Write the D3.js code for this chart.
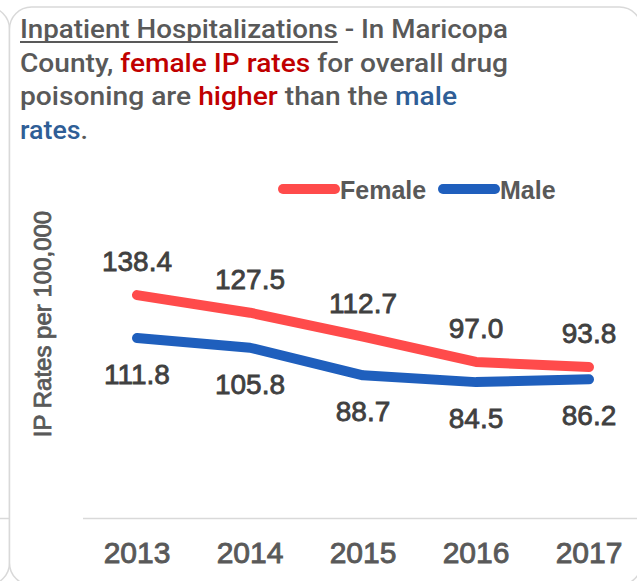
<!DOCTYPE html>
<html>
<head>
<meta charset="utf-8">
<script src="https://cdn.jsdelivr.net/npm/d3@7"></script>
<style>
  html, body { margin: 0; padding: 0; background: #fff; }
  #chart { width: 637px; height: 581px; overflow: hidden; }
</style>
</head>
<body>
<div id="chart"></div>
<script>
// data
const years = ['2013', '2014', '2015', '2016', '2017'];
const female = [138.4, 127.5, 112.7, 97.0, 93.8];
const male = [111.8, 105.8, 88.7, 84.5, 86.2];
const seriesNames = ['Female', 'Male'];

const W = 637, H = 581;
const GRAY = '#595959';
const RED_LINE = '#ff4b4b', BLUE_LINE = '#1f5fbd';
const BORDER = '#d9d9d9';
const FONT = '"Liberation Sans", Arial, sans-serif';

const svg = d3.select('#chart').append('svg')
    .attr('width', W)
    .attr('height', H);

// slide frames (neighbour shape on the left + the chart box)
svg.append('rect')
    .attr('x', -640).attr('y', 7)
    .attr('width', 649.5).attr('height', 578)
    .attr('rx', 22)
    .attr('fill', 'none').attr('stroke', BORDER).attr('stroke-width', 1.5);
svg.append('line')
    .attr('x1', 0).attr('x2', 9.5).attr('y1', 518.5).attr('y2', 518.5)
    .attr('stroke', BORDER).attr('stroke-width', 1.5);
svg.append('rect')
    .attr('x', 9.5).attr('y', 7)
    .attr('width', 632).attr('height', 578)
    .attr('rx', 22)
    .attr('fill', '#fff').attr('stroke', BORDER).attr('stroke-width', 1.5);

// title, four lines
const titleLines = [
  { w: 488, parts: [['Inpatient Hospitalizations', GRAY, true], [' - In Maricopa', GRAY]] },
  { w: 488, parts: [['County, ', GRAY], ['female IP rates', '#c00000'], [' for overall drug', GRAY]] },
  { w: 437, parts: [['poisoning are ', GRAY], ['higher', '#c00000'], [' than the ', GRAY], ['male', '#2f5e96']] },
  { w: 68,  parts: [['rates', '#2f5e96'], ['.', GRAY]] }
];

titleLines.forEach((line, i) => {
  const t = svg.append('text')
      .attr('x', 20)
      .attr('y', 38 + i * 33.5)
      .attr('font-family', 'Roboto, "Liberation Sans", sans-serif')
      .attr('font-size', 26)
      .attr('font-weight', 500)
      .attr('textLength', line.w)
      .attr('lengthAdjust', 'spacingAndGlyphs');
  line.parts.forEach(p => {
    t.append('tspan').attr('fill', p[1]).text(p[0]);
  });
  // underline for the first run
  if (line.parts[0][2]) {
    const node = t.node();
    const end = node.getEndPositionOfChar(line.parts[0][0].length - 1).x;
    svg.append('line')
        .attr('x1', 20).attr('x2', end)
        .attr('y1', 42).attr('y2', 42)
        .attr('stroke', GRAY).attr('stroke-width', 1.8);
  }
});

// scales
const x = d3.scaleBand().domain(years).range([80.5, 645.5]);
const cx = d => x(d) + x.bandwidth() / 2;
const y = d3.scaleLinear().domain([0, 200]).range([518.5, 195.7]);

// x axis baseline + year labels
const xAxis = svg.append('g')
    .attr('transform', 'translate(0,518.5)')
    .call(d3.axisBottom(x).tickSize(0).tickPadding(0));
xAxis.select('.domain')
    .attr('d', 'M83,0H' + W)
    .attr('stroke', BORDER).attr('stroke-width', 1.5);
xAxis.selectAll('.tick text')
    .attr('y', 44.5)
    .attr('dy', null)
    .attr('font-family', FONT)
    .attr('font-size', 30)
    .attr('fill', GRAY)
    .attr('stroke', GRAY)
    .attr('stroke-width', 0.9);

// y axis title
svg.append('text')
    .attr('transform', 'translate(51,324) rotate(-90)')
    .attr('text-anchor', 'middle')
    .attr('font-family', FONT)
    .attr('font-size', 24)
    .attr('fill', GRAY)
    .attr('stroke', GRAY)
    .attr('stroke-width', 0.8)
    .text('IP Rates per 100,000');

// lines
const line = d3.line()
    .x((d, i) => cx(years[i]))
    .y(d => y(d));

const series = [
  { name: seriesNames[0], values: female, color: RED_LINE, dy: -24 },
  { name: seriesNames[1], values: male, color: BLUE_LINE, dy: 46 }
];

series.forEach(s => {
  svg.append('path')
      .datum(s.values)
      .attr('d', line)
      .attr('fill', 'none')
      .attr('stroke', s.color)
      .attr('stroke-width', 10)
      .attr('stroke-linecap', 'round')
      .attr('stroke-linejoin', 'round');

  svg.append('g').selectAll('text')
      .data(s.values)
      .join('text')
      .attr('x', (d, i) => cx(years[i]))
      .attr('y', d => y(d) + s.dy)
      .attr('text-anchor', 'middle')
      .attr('font-family', FONT)
      .attr('font-size', 28)
      .attr('fill', '#404040')
      .attr('stroke', '#404040')
      .attr('stroke-width', 0.8)
      .text(d => d.toFixed(1));
});

// legend
const legend = svg.append('g').attr('transform', 'translate(278,189)');
const legendX = [0, 160];
series.forEach((s, i) => {
  const g = legend.append('g').attr('transform', 'translate(' + legendX[i] + ',0)');
  g.append('line')
      .attr('x1', 5).attr('x2', 57)
      .attr('y1', 0).attr('y2', 0)
      .attr('stroke', s.color)
      .attr('stroke-width', 10)
      .attr('stroke-linecap', 'round');
  g.append('text')
      .attr('x', 62)
      .attr('y', 10)
      .attr('font-family', FONT)
      .attr('font-size', 25)
      .attr('font-weight', 'bold')
      .attr('fill', GRAY)
      .text(s.name);
});
</script>
</body>
</html>
